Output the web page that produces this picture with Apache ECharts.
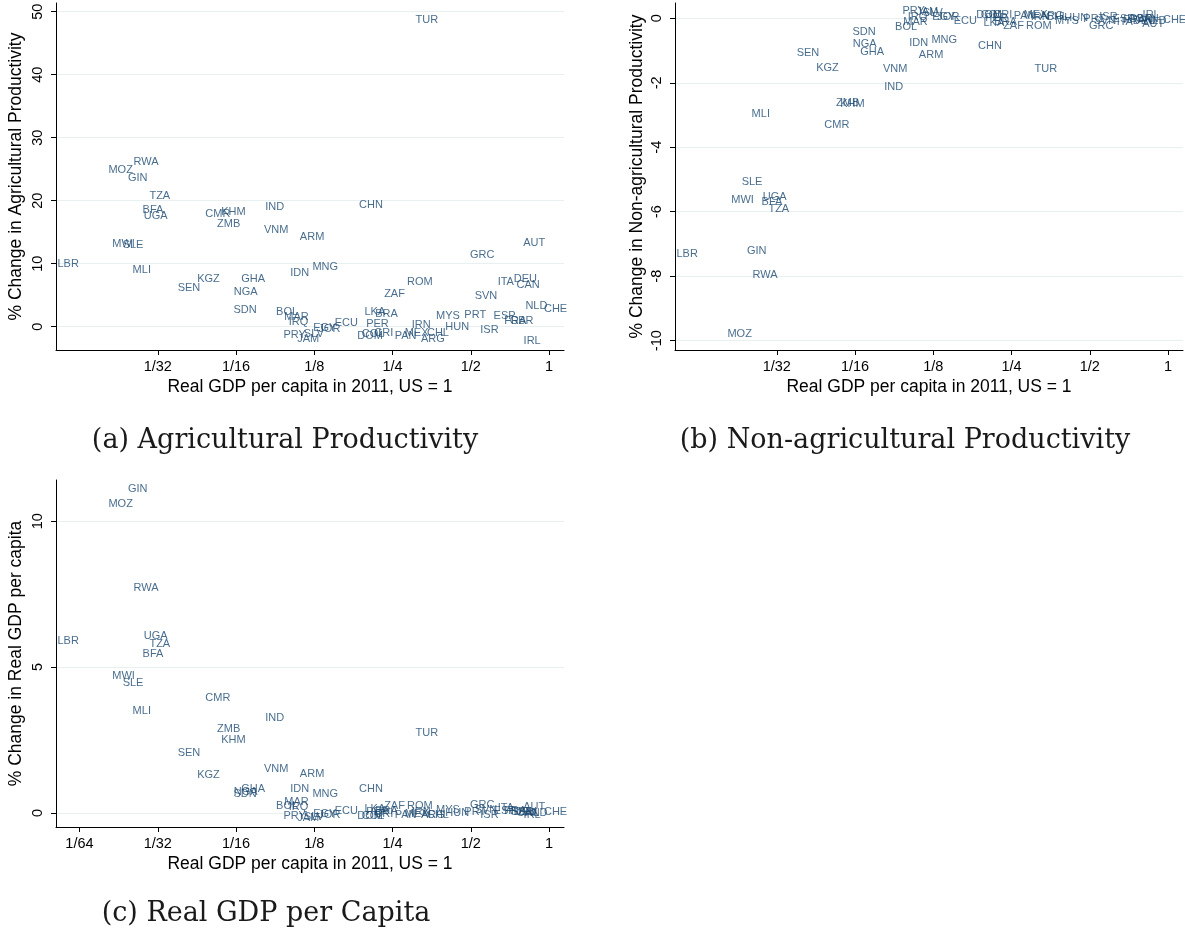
<!DOCTYPE html>
<html>
<head>
<meta charset="utf-8">
<script src="https://cdn.jsdelivr.net/npm/echarts@6/dist/echarts.min.js"></script>
<style>
  html, body { margin: 0; padding: 0; background: #fff; }
  #chart { width: 1185px; height: 941px; }
</style>
</head>
<body>
<div id="chart"></div>
<script>
// country codes, one label per country in every panel
var countries = ['TUR','RWA','MOZ','GIN','TZA','BFA','UGA','CMR','KHM','ZMB',
  'IND','CHN','VNM','ARM','AUT','MWI','SLE','LBR','MLI','GRC',
  'IDN','MNG','KGZ','GHA','SEN','NGA','ROM','ZAF','ITA','DEU',
  'CAN','SVN','NLD','CHE','SDN','BOL','MAR','IRQ','EGY','JOR',
  'ECU','LKA','BRA','PER','DOM','COL','CRI','PAN','MEX','IRN',
  'CHL','ARG','MYS','HUN','PRT','ISR','ESP','FRA','GBR','IRL',
  'PRY','JAM','SLV'];

// real GDP per capita in 2011, US = 1
var gdpRel = [0.305,0.0251,0.0201,0.0239,0.0289,0.0272,0.0275,0.0474,0.0546,0.0526,
  0.0806,0.185,0.0797,0.1095,0.791,0.0208,0.0228,0.0128,0.0249,0.494,
  0.1005,0.1224,0.0441,0.0652,0.0371,0.0610,0.283,0.231,0.631,0.728,
  0.746,0.515,0.807,0.951,0.0608,0.0887,0.0954,0.0993,0.1232,0.129,
  0.149,0.194,0.2135,0.197,0.182,0.1895,0.2117,0.2535,0.277,0.295,
  0.3375,0.320,0.366,0.397,0.470,0.541,0.609,0.669,0.702,0.794,
  0.0947,0.107,0.1134];

// % change in agricultural productivity
var agriChange = [48.7,26.1,24.9,23.65,20.7,18.5,17.5,17.9,18.2,16.25,
  18.95,19.4,15.3,14.25,13.35,13.1,13.0,9.95,9.0,11.4,
  8.6,9.45,7.5,7.65,6.15,5.5,7.03,5.25,7.03,7.6,
  6.6,4.85,3.3,2.75,2.7,2.35,1.55,0.7,-0.16,-0.42,
  0.63,2.4,1.96,0.37,-1.48,-1.2,-0.95,-1.48,-0.95,0.26,
  -0.95,-2.0,1.75,0.0,1.85,-0.53,1.75,0.9,0.9,-2.27,
  -1.3,-1.95,-1.16];

// % change in non-agricultural productivity
var nonAgriChange = [-1.58,-7.97,-9.8,-7.22,-5.93,-5.7,-5.55,-3.3,-2.66,-2.64,
  -2.12,-0.86,-1.57,-1.14,-0.18,-5.64,-5.09,-7.32,-2.97,-0.24,
  -0.78,-0.67,-1.55,-1.03,-1.09,-0.81,-0.25,-0.25,-0.12,-0.07,
  -0.03,-0.07,-0.07,-0.05,-0.43,-0.28,-0.1,0.03,0.05,0.05,
  -0.08,-0.15,-0.1,0.0,0.09,0.09,0.09,0.07,0.09,0.05,
  0.05,0.07,-0.07,0.0,-0.03,0.05,-0.03,-0.05,-0.03,0.1,
  0.22,0.2,0.18];

// % change in real GDP per capita
var gdpChange = [2.74,7.72,10.6,11.1,5.8,5.46,6.06,3.95,2.5,2.89,
  3.25,0.84,1.51,1.32,0.2,4.68,4.47,5.91,3.49,0.28,
  0.82,0.65,1.31,0.83,2.04,0.71,0.25,0.25,0.17,0.05,
  0.0,0.1,0.0,0.05,0.66,0.25,0.37,0.22,-0.03,-0.07,
  0.06,0.14,0.08,0.05,-0.11,-0.1,-0.04,-0.07,-0.05,0.02,
  -0.07,-0.08,0.1,0.0,0.05,-0.07,0.08,0.08,0.05,-0.07,
  -0.11,-0.18,-0.12];

var xTickLabels = ['1/64','1/32','1/16','1/8','1/4','1/2','1'];
var yTicksA = [0, 10, 20, 30, 40, 50];
var yTicksB = [-10, -8, -6, -4, -2, 0];
var yTicksC = [0, 5, 10];

var captions = ['(a) Agricultural Productivity', '(b) Non-agricultural Productivity', '(c) Real GDP per Capita'];
var xTitle = 'Real GDP per capita in 2011, US = 1';

var navy = '#1a476f';
var sans = '"Liberation Sans", Arial, sans-serif';

function tickPos(s) {
    var p = s.split('/');
    return Math.log2(p.length > 1 ? Number(p[0]) / Number(p[1]) : Number(p[0]));
}

function xAxisFor(gi, labels) {
    var ticks = labels.map(tickPos);
    return {
        gridIndex: gi,
        type: 'value',
        min: -6.3,
        max: 0.19,
        name: xTitle,
        nameLocation: 'middle',
        nameGap: 28,
        nameTextStyle: {fontFamily: sans, fontSize: 17.5, color: '#000'},
        axisLine: {show: true, onZero: false, lineStyle: {color: '#000', width: 1}},
        axisTick: {show: true, customValues: ticks, length: 5, lineStyle: {color: '#000'}},
        axisLabel: {
            customValues: ticks,
            margin: 9,
            fontFamily: sans,
            fontSize: 14.5,
            color: '#000',
            formatter: function (v) {
                for (var i = 0; i < ticks.length; i++) {
                    if (Math.abs(ticks[i] - v) < 1e-6) return labels[i];
                }
                return '';
            }
        },
        splitLine: {show: false}
    };
}

function yAxisFor(gi, ticks, min, max, name, gap) {
    return {
        gridIndex: gi,
        type: 'value',
        min: min,
        max: max,
        name: name,
        nameLocation: 'middle',
        nameGap: gap,
        nameTextStyle: {fontFamily: sans, fontSize: 17.5, color: '#000'},
        axisLine: {show: true, onZero: false, lineStyle: {color: '#000', width: 1}},
        axisTick: {show: true, customValues: ticks, length: 5, lineStyle: {color: '#000'}},
        axisLabel: {customValues: ticks, rotate: 90, margin: 11, fontFamily: sans, fontSize: 14.5, color: '#000'},
        splitLine: {show: false}
    };
}

// light horizontal grid lines at the y ticks, kept behind the labels
function gridSeries(gi, ticks) {
    return {
        type: 'scatter',
        xAxisIndex: gi,
        yAxisIndex: gi,
        data: [],
        z: 0,
        silent: true,
        markLine: {
            silent: true,
            z: 0,
            symbol: ['none', 'none'],
            label: {show: false},
            lineStyle: {color: '#e8f0f2', width: 1.2, type: 'solid'},
            data: ticks.map(function (t) { return {yAxis: t}; })
        }
    };
}

function labelSeries(gi, yValues) {
    return {
        type: 'scatter',
        xAxisIndex: gi,
        yAxisIndex: gi,
        z: 6,
        clip: false,
        symbolSize: 1,
        itemStyle: {color: 'rgba(0,0,0,0)'},
        label: {
            show: true,
            position: 'right',
            distance: 0,
            formatter: '{b}',
            fontFamily: sans,
            fontSize: 11,
            color: navy
        },
        data: countries.map(function (c, i) {
            return {name: c, value: [Math.log2(gdpRel[i]), yValues[i]]};
        })
    };
}

var myChart = echarts.init(document.getElementById('chart'));
myChart.setOption({
    backgroundColor: '#fff',
    animation: false,
    grid: [
        {left: 56, top: 3, width: 508, height: 347, outerBoundsMode: 'none'},
        {left: 675, top: 3, width: 508, height: 347, outerBoundsMode: 'none'},
        {left: 56, top: 480, width: 508, height: 347, outerBoundsMode: 'none'}
    ],
    xAxis: [
        xAxisFor(0, xTickLabels.slice(1)),
        xAxisFor(1, xTickLabels.slice(1)),
        xAxisFor(2, xTickLabels)
    ],
    yAxis: [
        yAxisFor(0, yTicksA, -3.7, 51.38, '% Change in Agricultural Productivity', 31),
        yAxisFor(1, yTicksB, -10.29, 0.475, '% Change in Non-agricultural Productivity', 29),
        yAxisFor(2, yTicksC, -0.48, 11.41, '% Change in Real GDP per capita', 31)
    ],
    series: [
        gridSeries(0, yTicksA),
        gridSeries(1, yTicksB),
        gridSeries(2, yTicksC),
        labelSeries(0, agriChange),
        labelSeries(1, nonAgriChange),
        labelSeries(2, gdpChange)
    ],
    graphic: [
        {type: 'text', x: 285, y: 441, style: {text: captions[0], fill: '#1a1a1a', font: '27px "DejaVu Serif", serif', textAlign: 'center', textVerticalAlign: 'middle', verticalAlign: 'middle'}},
        {type: 'text', x: 905, y: 441, style: {text: captions[1], fill: '#1a1a1a', font: '27px "DejaVu Serif", serif', textAlign: 'center', textVerticalAlign: 'middle', verticalAlign: 'middle'}},
        {type: 'text', x: 266, y: 914, style: {text: captions[2], fill: '#1a1a1a', font: '27px "DejaVu Serif", serif', textAlign: 'center', textVerticalAlign: 'middle', verticalAlign: 'middle'}}
    ]
});
</script>
</body>
</html>
